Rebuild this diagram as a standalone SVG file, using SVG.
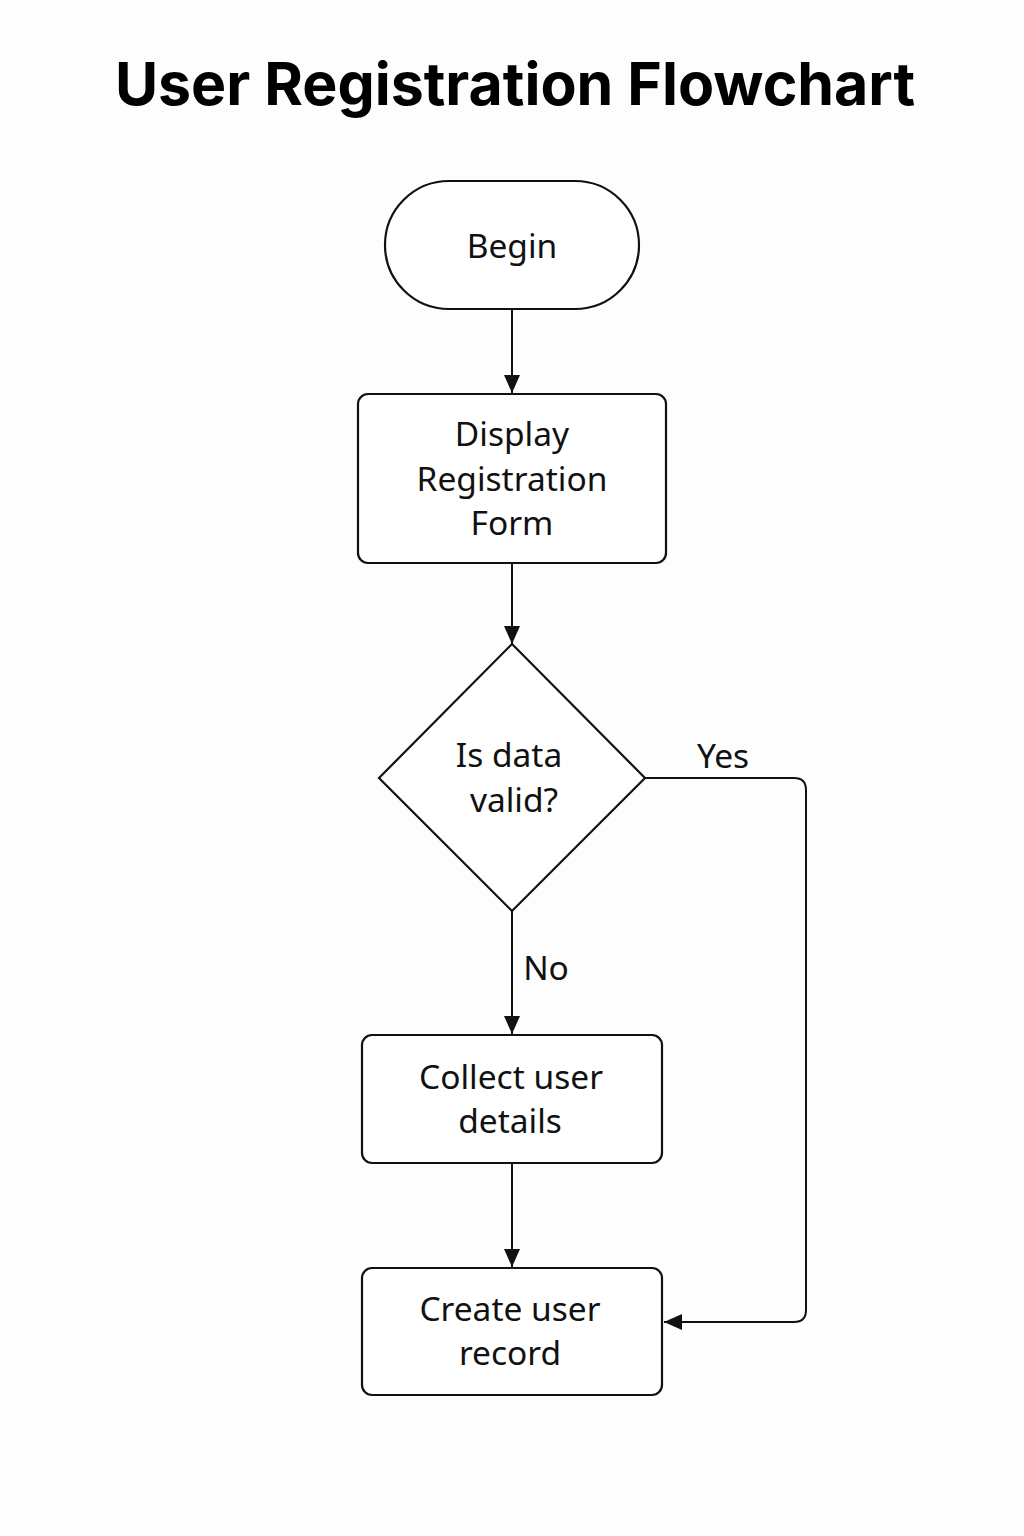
<svg xmlns="http://www.w3.org/2000/svg" width="1024" height="1536" viewBox="0 0 1024 1536">
<defs>
<style>
.node{fill:#fff;stroke:#111;stroke-width:2.2}
.lbl{font-family:"Noto Sans","Open Sans","Liberation Sans",sans-serif;font-size:33.5px;fill:#111;text-anchor:middle}
.edge{fill:none;stroke:#111;stroke-width:2}
.title{font-family:Inter,"Liberation Sans",sans-serif;font-weight:700;font-size:59px;fill:#000;text-anchor:middle}
</style>
<marker id="arr" viewBox="0 0 18 16" refX="18" refY="8" markerWidth="18" markerHeight="16" markerUnits="userSpaceOnUse" orient="auto">
<path d="M0,0 L18,8 L0,16 Z" fill="#111"/>
</marker>
</defs>
<rect width="1024" height="1536" fill="#fdfdfd"/>
<text class="title" x="515" y="105">User Registration Flowchart</text>

<g id="connectors">
<path class="edge" d="M512,309 V393" marker-end="url(#arr)"/>
<path class="edge" d="M512,563 V644" marker-end="url(#arr)"/>
<path class="edge" d="M512,911 V1034" marker-end="url(#arr)"/>
<path class="edge" d="M512,1163 V1267" marker-end="url(#arr)"/>
<path class="edge" d="M645,778 H794 Q806,778 806,790 V1310 Q806,1322 794,1322 H664" marker-end="url(#arr)"/>
<text class="lbl" x="723" y="768">Yes</text>
<text class="lbl" x="546" y="980">No</text>
</g>

<g id="begin">
<rect class="node" x="385" y="181" width="254" height="128" rx="64" ry="64"/>
<text class="lbl" x="512" y="258">Begin</text>
</g>

<g id="display">
<rect class="node" x="358" y="394" width="308" height="169" rx="10"/>
<text class="lbl" x="512" y="446">Display</text>
<text class="lbl" x="512" y="491">Registration</text>
<text class="lbl" x="512" y="535">Form</text>
</g>

<g id="decision">
<polygon class="node" points="512,644 645,778 512,911 379,778"/>
<text class="lbl" x="509" y="767">Is data</text>
<text class="lbl" x="514" y="812">valid?</text>
</g>

<g id="collect">
<rect class="node" x="362" y="1035" width="300" height="128" rx="10"/>
<text class="lbl" x="511" y="1089">Collect user</text>
<text class="lbl" x="510" y="1133">details</text>
</g>

<g id="create">
<rect class="node" x="362" y="1268" width="300" height="127" rx="10"/>
<text class="lbl" x="510" y="1321">Create user</text>
<text class="lbl" x="510" y="1365">record</text>
</g>
</svg>
